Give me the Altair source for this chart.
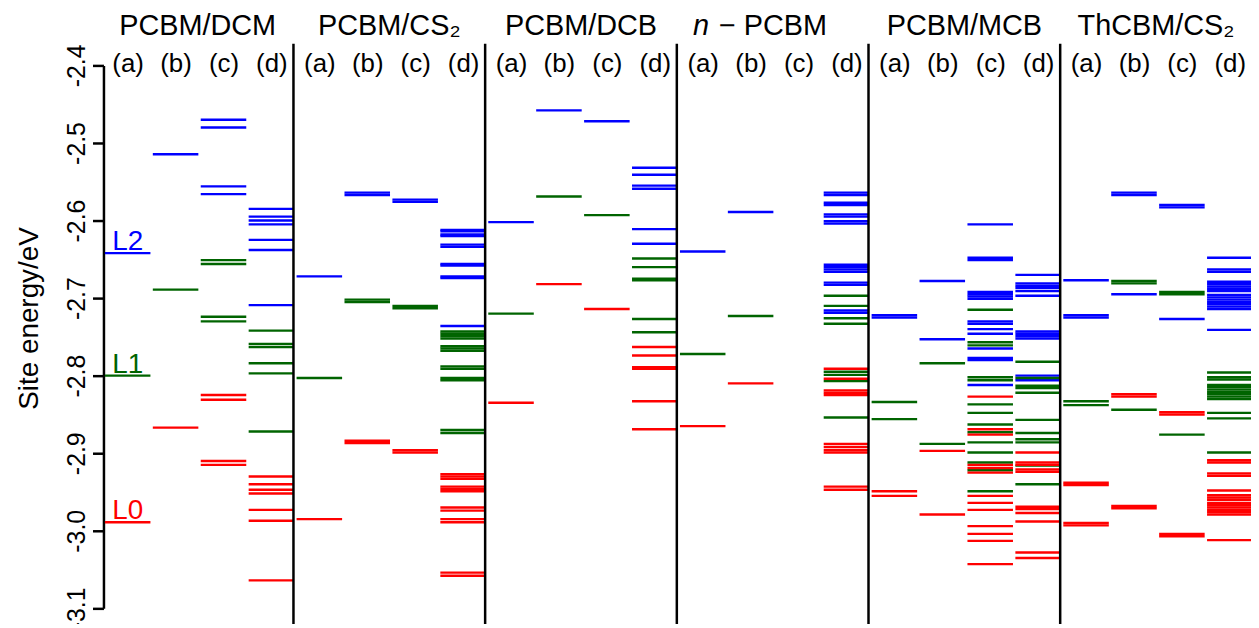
import altair as alt
import pandas as pd

# ---------------- data (site energies in eV) ----------------
GROUPS = ["PCBM/DCM", "PCBM/CS\u2082", "PCBM/DCB",
          "n \u2212 PCBM", "PCBM/MCB", "ThCBM/CS\u2082"]
COLUMNS = ["(a)", "(b)", "(c)", "(d)"]
LEVELS = ["L2", "L1", "L0"]
LEVEL_COLORS = ["#0000ff", "#006400", "#ff0000"]

# each list: [(a), (b), (c), (d)]
DCM_L2 = [[-2.642], [-2.5145], [-2.470, -2.480, -2.556, -2.566],
          [-2.585, -2.595, -2.600, -2.605, -2.625, -2.638, -2.709]]
DCM_L1 = [[-2.800], [-2.689], [-2.651, -2.656, -2.724, -2.730],
          [-2.742, -2.759, -2.763, -2.784, -2.797, -2.872]]
DCM_L0 = [[-2.989], [-2.867], [-2.825, -2.831, -2.910, -2.915],
          [-2.930, -2.940, -2.947, -2.952, -2.973, -2.987, -3.064]]

CS2_L2 = [[-2.672], [-2.564, -2.567], [-2.573, -2.576],
          [-2.612, -2.614, -2.618, -2.620, -2.631, -2.634, -2.656, -2.658,
           -2.672, -2.674, -2.736]]
CS2_L1 = [[-2.803], [-2.702, -2.705], [-2.710, -2.713],
          [-2.743, -2.746, -2.749, -2.752, -2.762, -2.765, -2.768, -2.788,
           -2.791, -2.803, -2.806, -2.870, -2.874]]
CS2_L0 = [[-2.985], [-2.884, -2.887], [-2.896, -2.899],
          [-2.927, -2.930, -2.933, -2.943, -2.946, -2.949, -2.970, -2.974,
           -2.985, -2.989, -3.054, -3.058]]

DCB_L2 = [[-2.602], [-2.458], [-2.472],
          [-2.532, -2.541, -2.555, -2.559, -2.611, -2.630]]
DCB_L1 = [[-2.720], [-2.569], [-2.593],
          [-2.649, -2.660, -2.675, -2.677, -2.727, -2.744]]
DCB_L0 = [[-2.835], [-2.682], [-2.714],
          [-2.763, -2.774, -2.789, -2.791, -2.833, -2.869]]

NPC_L2 = [[-2.640], [-2.589], [],
          [-2.564, -2.567, -2.577, -2.580, -2.592, -2.595, -2.601, -2.604,
           -2.657, -2.660, -2.663, -2.666, -2.680, -2.683, -2.716, -2.719]]
NPC_L1 = [[-2.772], [-2.723], [],
          [-2.697, -2.710, -2.726, -2.733, -2.795, -2.799, -2.807, -2.854]]
NPC_L0 = [[-2.865], [-2.810], [],
          [-2.791, -2.804, -2.819, -2.822, -2.825, -2.888, -2.892, -2.896,
           -2.899, -2.943, -2.947]]

MCB_L2 = [[-2.722, -2.725], [-2.678, -2.753],
          [-2.605, -2.648, -2.651, -2.692, -2.695, -2.698, -2.701, -2.730,
           -2.733, -2.740, -2.746, -2.765, -2.777, -2.780, -2.812],
          [-2.670, -2.681, -2.684, -2.687, -2.691, -2.697, -2.743, -2.746,
           -2.749, -2.752, -2.800, -2.806]]
MCB_L1 = [[-2.834, -2.856], [-2.784, -2.888],
          [-2.715, -2.757, -2.761, -2.802, -2.806, -2.837, -2.848, -2.863,
           -2.873, -2.886, -2.899, -2.912, -2.922, -2.949],
          [-2.782, -2.803, -2.813, -2.816, -2.822, -2.857, -2.874, -2.882,
           -2.886, -2.916, -2.940]]
MCB_L0 = [[-2.949, -2.955], [-2.897, -2.979],
          [-2.827, -2.869, -2.876, -2.915, -2.919, -2.925, -2.955, -2.964,
           -2.973, -2.994, -3.004, -3.013, -3.043],
          [-2.899, -2.912, -2.915, -2.921, -2.924, -2.969, -2.972, -2.977,
           -2.988, -3.028, -3.035]]

TH_L2 = [[-2.677, -2.722, -2.725], [-2.564, -2.567, -2.695],
         [-2.580, -2.583, -2.727],
         [-2.648, -2.663, -2.666, -2.679, -2.682, -2.685, -2.688, -2.691,
          -2.696, -2.699, -2.702, -2.705, -2.708, -2.711, -2.714, -2.741]]
TH_L1 = [[-2.833, -2.838], [-2.678, -2.681, -2.844], [-2.692, -2.695, -2.876],
         [-2.796, -2.802, -2.805, -2.812, -2.815, -2.818, -2.821, -2.824,
          -2.827, -2.830, -2.848, -2.855, -2.899]]
TH_L0 = [[-2.938, -2.941, -2.990, -2.993], [-2.824, -2.827, -2.968, -2.971],
         [-2.847, -2.850, -3.004, -3.007],
         [-2.909, -2.912, -2.926, -2.929, -2.948, -2.954, -2.957, -2.960,
          -2.964, -2.967, -2.970, -2.973, -2.976, -2.979, -3.012]]

Y_TICKS = [-2.4, -2.5, -2.6, -2.7, -2.8, -2.9, -3.0, -3.1]
REF_LABELS = ["L2", "L1", "L0"]
REF_ENERGIES = [-2.642, -2.800, -2.989]

SETS = [
    (DCM_L2, DCM_L1, DCM_L0),
    (CS2_L2, CS2_L1, CS2_L0),
    (DCB_L2, DCB_L1, DCB_L0),
    (NPC_L2, NPC_L1, NPC_L0),
    (MCB_L2, MCB_L1, MCB_L0),
    (TH_L2, TH_L1, TH_L0),
]

# ---------------- tables ----------------
rows = []
for g, levels in enumerate(SETS):
    for lvl_name, cols in zip(LEVELS, levels):
        for c, energies in enumerate(cols):
            for e in energies:
                x1 = g * 4 + c + 0.065
                x2 = min(g * 4 + c + 1.015, g * 4 + 3.99)
                rows.append({"x1": x1, "x2": x2, "e": e, "level": lvl_name})
lines_df = pd.DataFrame(rows)

sep_df = pd.DataFrame({"sx": [4 * g for g in range(1, 6)]})
sep_df["top"] = -2.372
sep_df["bot"] = -3.25

HEAD_Y = -2.3487
head_rows = [{"gx": g * 4 + 2, "name": GROUPS[g], "gy": HEAD_Y}
             for g in range(6) if g != 3]
group_df = pd.DataFrame(head_rows)
col_df = pd.DataFrame([{"cx": g * 4 + c + 0.55, "lab": COLUMNS[c], "cy": -2.3987}
                       for g in range(6) for c in range(4)])
ref_df = pd.DataFrame({"rx": [0.22, 0.22, 0.22], "lab": REF_LABELS,
                       "e": REF_ENERGIES, "level": LEVELS})
npc_n = pd.DataFrame({"gx": [14], "t": ["n"], "gy": [HEAD_Y]})
npc_rest = pd.DataFrame({"gx": [14], "t": ["\u2212 PCBM"], "gy": [HEAD_Y]})

FONT = "Liberation Sans"
HEAD_SIZE = 29
xs = alt.Scale(domain=[0.035, 23.982], nice=False, zero=False)
ys = alt.Scale(domain=[-3.1, -2.4], nice=False, zero=False)
cscale = alt.Scale(domain=LEVELS, range=LEVEL_COLORS)

yaxis = alt.Axis(values=Y_TICKS, labelExpr="'-' + format(abs(datum.value), '.1f')",
                 domain=True, domainColor="black", domainWidth=2.5,
                 ticks=True, tickColor="black", tickWidth=2.5, tickSize=11,
                 labelAngle=270, labelAlign="center", labelBaseline="bottom",
                 labelPadding=3, labelFont=FONT, labelFontSize=25,
                 labelColor="black", grid=False, title="Site energy/eV",
                 titleFont=FONT, titleFontSize=28, titleFontWeight="normal",
                 titleColor="black", titleAngle=270, titleAlign="center",
                 titleBaseline="middle", titleX=-74, titleY=254)

lines = alt.Chart(lines_df).mark_rule(strokeWidth=2.4).encode(
    x=alt.X("x1:Q", scale=xs, axis=None),
    x2="x2:Q",
    y=alt.Y("e:Q", scale=ys, axis=yaxis),
    color=alt.Color("level:N", scale=cscale, legend=None),
)

seps = alt.Chart(sep_df).mark_rule(strokeWidth=2.5, color="black").encode(
    x=alt.X("sx:Q", scale=xs, axis=None),
    y=alt.Y("top:Q", scale=ys, axis=None), y2="bot:Q")

heads = alt.Chart(group_df).mark_text(font=FONT, fontSize=HEAD_SIZE, color="black",
                                      baseline="middle").encode(
    x=alt.X("gx:Q", scale=xs, axis=None),
    y=alt.Y("gy:Q", scale=ys, axis=None), text="name:N")

n_it = alt.Chart(npc_n).mark_text(font=FONT, fontSize=HEAD_SIZE, fontStyle="italic",
                                  color="black", baseline="middle", align="right",
                                  dx=-64).encode(
    x=alt.X("gx:Q", scale=xs, axis=None),
    y=alt.Y("gy:Q", scale=ys, axis=None), text="t:N")
n_rest = alt.Chart(npc_rest).mark_text(font=FONT, fontSize=HEAD_SIZE, color="black",
                                       baseline="middle", align="left",
                                       dx=-54).encode(
    x=alt.X("gx:Q", scale=xs, axis=None),
    y=alt.Y("gy:Q", scale=ys, axis=None), text="t:N")

cols = alt.Chart(col_df).mark_text(font=FONT, fontSize=26, color="black",
                                   baseline="middle").encode(
    x=alt.X("cx:Q", scale=xs, axis=None),
    y=alt.Y("cy:Q", scale=ys, axis=None), text="lab:N")

refs = alt.Chart(ref_df).mark_text(font=FONT, fontSize=28, align="left",
                                   baseline="alphabetic", dy=-3).encode(
    x=alt.X("rx:Q", scale=xs, axis=None),
    y=alt.Y("e:Q", scale=ys, axis=None), text="lab:N",
    color=alt.Color("level:N", scale=cscale, legend=None))

chart = alt.layer(lines, seps, heads, n_it, n_rest, cols, refs).resolve_axis(
    x="independent", y="independent"
).properties(
    width=1154, height=546,
    autosize=alt.AutoSizeParams(type="none"),
    padding={"left": 96, "top": 56, "right": 0, "bottom": 14},
).configure_view(strokeWidth=0)

chart.save("out.html", embed_options={"renderer": "svg", "actions": False})
